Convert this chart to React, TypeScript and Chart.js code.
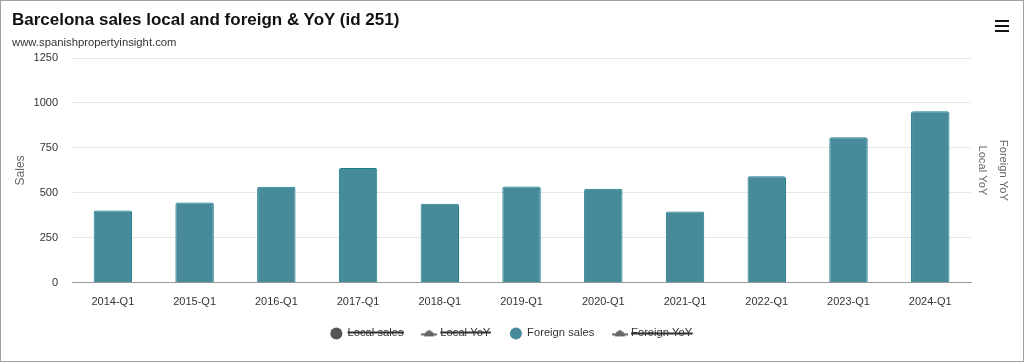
import React, { useEffect, useRef } from 'react';
import { Chart, registerables } from 'chart.js';

Chart.register(...registerables);

const categories = [
  '2014-Q1', '2015-Q1', '2016-Q1', '2017-Q1', '2018-Q1', '2019-Q1',
  '2020-Q1', '2021-Q1', '2022-Q1', '2023-Q1', '2024-Q1',
];
const foreignSales = [402, 446, 534, 638, 439, 535, 523, 396, 593, 809, 954];
// Series hidden in the reference (no visible values)
const localSales: (number | null)[] = [];
const localYoY: (number | null)[] = [];
const foreignYoY: (number | null)[] = [];
const salesTickMin = 0;
const salesTickMax = 1250;
const salesTickStep = 250;

function yoySymbol(color: string): HTMLCanvasElement {
  const c = document.createElement('canvas');
  c.width = 16;
  c.height = 10;
  const ctx = c.getContext('2d')!;
  ctx.strokeStyle = color;
  ctx.lineWidth = 2;
  ctx.beginPath();
  ctx.moveTo(0, 6);
  ctx.lineTo(16, 6);
  ctx.stroke();
  ctx.fillStyle = color;
  ctx.beginPath();
  ctx.moveTo(3, 8);
  ctx.lineTo(4, 4);
  ctx.lineTo(8, 1.5);
  ctx.lineTo(12, 4);
  ctx.lineTo(13, 8);
  ctx.closePath();
  ctx.fill();
  return c;
}

export default function App() {
  const ref = useRef<HTMLCanvasElement | null>(null);

  useEffect(() => {
    document.body.style.margin = '0';
    const canvas = ref.current;
    if (!canvas) return;
    const font = "'Liberation Sans', Arial, Helvetica, sans-serif";
    const yoyIcon = yoySymbol('#666666');

    const chart = new Chart(canvas, {
      type: 'bar',
      data: {
        labels: categories,
        datasets: [
          {
            type: 'bar',
            label: 'Local sales',
            data: localSales,
            backgroundColor: '#555555',
            borderColor: '#555555',
            yAxisID: 'y',
            hidden: true,
          },
          {
            type: 'line',
            label: 'Local YoY',
            data: localYoY,
            borderColor: '#666666',
            backgroundColor: '#666666',
            yAxisID: 'yLocal',
            hidden: true,
          },
          {
            type: 'bar',
            label: 'Foreign sales',
            data: foreignSales,
            backgroundColor: '#478b9a',
            borderColor: '#1b7d8f',
            borderWidth: 1,
            borderRadius: 2,
            borderSkipped: 'bottom',
            barPercentage: 0.47,
            categoryPercentage: 1,
            yAxisID: 'y',
          },
          {
            type: 'line',
            label: 'Foreign YoY',
            data: foreignYoY,
            borderColor: '#666666',
            backgroundColor: '#666666',
            yAxisID: 'yForeign',
            hidden: true,
          },
        ],
      },
      options: {
        animation: false,
        responsive: true,
        maintainAspectRatio: false,
        layout: { padding: { left: 8, right: 9, top: 57, bottom: 12 } },
        plugins: {
          title: { display: false },
          tooltip: { enabled: false },
          legend: {
            position: 'bottom',
            labels: {
              usePointStyle: true,
              boxWidth: 12,
              boxHeight: 8.5,
              padding: 20,
              color: '#333333',
              font: { family: font, size: 11.2 },
              generateLabels: (ch: any) => {
                const items = Chart.defaults.plugins.legend.labels.generateLabels(ch);
                return items.map((it: any) => {
                  const ds: any = ch.data.datasets[it.datasetIndex];
                  if (ds.type === 'line') {
                    it.pointStyle = yoyIcon;
                  } else {
                    it.pointStyle = 'circle';
                    it.fillStyle = ds.backgroundColor;
                    it.strokeStyle = ds.backgroundColor;
                    it.lineWidth = 0;
                  }
                  it.fontColor = '#333333';
                  return it;
                });
              },
            },
          },
        },
        scales: {
          x: {
            grid: { display: false, drawTicks: false },
            border: { display: true, color: '#999999', width: 1 },
            ticks: {
              color: '#333333',
              font: { family: font, size: 11 },
              padding: 12.5,
              maxRotation: 0,
            },
            afterFit: (scale: any) => {
              scale.height = 25;
            },
          },
          y: {
            position: 'left',
            min: salesTickMin,
            max: salesTickMax,
            ticks: {
              stepSize: salesTickStep,
              color: '#333333',
              font: { family: font, size: 11 },
              padding: 14,
              callback: (v: any) => String(v),
            },
            grid: { color: '#e6e6e6', drawTicks: false },
            border: { display: false },
            title: {
              display: true,
              text: 'Sales',
              color: '#666666',
              font: { family: font, size: 12 },
            },
            afterFit: (scale: any) => {
              scale.width = 63;
            },
          },
          yLocal: {
            position: 'right',
            display: true,
            ticks: { display: false },
            grid: { display: false, drawTicks: false },
            border: { display: false },
            title: {
              display: true,
              text: 'Local YoY',
              color: '#666666',
              font: { family: font, size: 11.2 },
            },
          },
          yForeign: {
            position: 'right',
            display: true,
            ticks: { display: false },
            grid: { display: false, drawTicks: false },
            border: { display: false },
            title: {
              display: true,
              text: 'Foreign YoY',
              color: '#666666',
              font: { family: font, size: 11.2 },
            },
          },
        },
      } as any,
    });
    return () => chart.destroy();
  }, []);

  const fontFamily = "'Liberation Sans', Arial, Helvetica, sans-serif";
  return (
    <div
      style={{
        position: 'relative',
        width: 1024,
        height: 362,
        boxSizing: 'border-box',
        border: '1px solid #a0a0a0',
        background: '#ffffff',
        overflow: 'hidden',
      }}
    >
      <div style={{ position: 'absolute', left: 0, top: 0, right: 0, bottom: 0 }}>
        <canvas ref={ref} />
      </div>
      <div
        style={{
          position: 'absolute',
          left: 11,
          top: 8,
          fontFamily,
          fontWeight: 'bold',
          fontSize: 17,
          lineHeight: '22px',
          color: '#111111',
          whiteSpace: 'nowrap',
        }}
      >
        Barcelona sales local and foreign &amp; YoY (id 251)
      </div>
      <div
        style={{
          position: 'absolute',
          left: 11,
          top: 34,
          fontFamily,
          fontSize: 11.3,
          lineHeight: '14px',
          color: '#333333',
          whiteSpace: 'nowrap',
        }}
      >
        www.spanishpropertyinsight.com
      </div>
      <div style={{ position: 'absolute', left: 994, top: 19, width: 14 }}>
        {[0, 1, 2].map((i) => (
          <div
            key={i}
            style={{
              position: 'absolute',
              left: 0,
              top: i * 5,
              width: 14,
              height: 2,
              background: '#111111',
            }}
          />
        ))}
      </div>
    </div>
  );
}
